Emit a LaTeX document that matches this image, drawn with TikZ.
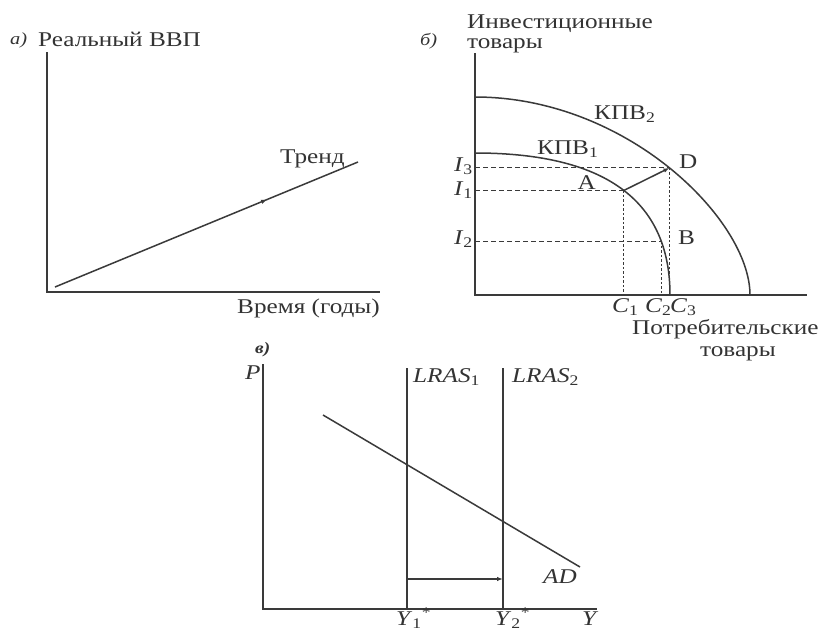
\documentclass[tikz,border=0pt]{standalone}
\usepackage{fontspec}
\setmainfont{Liberation Serif}[FakeStretch=1.2]
\usetikzlibrary{arrows.meta,decorations.markings}
\definecolor{lc}{HTML}{3A3A3A}
\definecolor{tc}{HTML}{333333}
\begin{document}
\begin{tikzpicture}[x=1pt,y=-1pt,
  ax/.style={line width=1.9pt,draw=lc},
  crv/.style={line width=1.5pt,draw=lc},
  hdash/.style={line width=1.2pt,draw=lc,dash pattern=on 5pt off 3pt},
  vdot/.style={line width=1.2pt,draw=lc,dash pattern=on 2.5pt off 2pt},
  lbl/.style={text=tc,inner sep=0pt,font=\fontsize{21}{24}\selectfont},
  slbl/.style={text=tc,inner sep=0pt,font=\fontsize{17}{20}\selectfont\itshape},
  tip/.style={-{Latex[length=6pt,width=4.5pt]}}]
\useasboundingbox[fill=white] (0,0) rectangle (820,630);

% ---------- panel a ----------
\coordinate (aO) at (47,292);
\coordinate (aY) at (47,52);
\coordinate (aX) at (380,292);
\coordinate (t0) at (55,287);
\coordinate (t1) at (358,162);
\draw[crv,postaction={decorate},decoration={markings,mark=at position 0.7 with {\arrow{Latex[length=6pt,width=4.5pt]}}}] (t0) -- (t1);
\draw[ax] (aY) -- (aO) -- (aX);
\node[slbl,anchor=base west] (alab) at (10,44) {а)};
\node[lbl,anchor=base west] (ay) at (38,46) {Реальный ВВП};
\node[lbl,anchor=base west] (trend) at (280,163) {Тренд};
\node[lbl,anchor=base west] (ax) at (237,313) {Время (годы)};

% ---------- panel b ----------
\coordinate (bO) at (475,295);
\coordinate (bY) at (475,53);
\coordinate (bX) at (807,295);
\draw[crv] (475,97) .. controls (627,97) and (750,220) .. coordinate[pos=0.5] (D) (750,295);
\draw[crv] (475,153) .. controls (612,153) and (670,205.5) .. coordinate[pos=0.5] (A) coordinate[pos=0.78] (B) (670,295);
\draw[hdash] (D -| bO) -- (D);
\draw[hdash] (A -| bO) -- (A);
\draw[hdash] (B -| bO) -- (B);
\draw[vdot] (A) -- (A |- bO);
\draw[vdot] (B) -- (B |- bO);
\draw[vdot] (D) -- (D |- bO);
\draw[crv,tip] (A) -- (D);
\draw[ax] (bY) -- (bO) -- (bX);
\node[slbl,anchor=base west] (blab) at (420,45) {б)};
\node[lbl,anchor=base west] (by1) at (467,28) {Инвестиционные};
\node[lbl,anchor=base west] (by2) at (467,48) {товары};
\node[lbl,anchor=base west] (kpv2) at (594,119) {КПВ\textsubscript{2}};
\node[lbl,anchor=base west] (kpv1) at (537,154) {КПВ\textsubscript{1}};
\node[lbl,anchor=base east] (i3) at (473,171) {\textit{I}\textsubscript{3}};
\node[lbl,anchor=base east] (i1) at (473,195) {\textit{I}\textsubscript{1}};
\node[lbl,anchor=base east] (i2) at (473,244) {\textit{I}\textsubscript{2}};
\node[lbl,anchor=base east] (la) at (596,189) {A};
\node[lbl,anchor=base west] (ld) at (679,168) {D};
\node[lbl,anchor=base west] (lb) at (678,244) {B};
\node[lbl,anchor=base west] (c1) at (612,312) {\textit{C}\textsubscript{1}};
\node[lbl,anchor=base west] (c2) at (645,312) {\textit{C}\textsubscript{2}};
\node[lbl,anchor=base west] (c3) at (670,312) {\textit{C}\textsubscript{3}};
\node[lbl,anchor=base west] (bx1) at (632,334) {Потребительские};
\node[lbl,anchor=base west] (bx2) at (700,356) {товары};

% ---------- panel c ----------
\coordinate (cO) at (263,609);
\coordinate (cY) at (263,364);
\coordinate (cX) at (597,609);
\coordinate (l1t) at (407,368);
\coordinate (l1b) at (407,609);
\coordinate (l2t) at (503,368);
\coordinate (l2b) at (503,609);
\coordinate (ad0) at (323,415);
\coordinate (ad1) at (580,567);
\coordinate (ar0) at (407,579);
\coordinate (ar1) at (503,579);
\draw[crv] (ad0) -- (ad1);
\draw[ax] (l1t) -- (l1b);
\draw[ax] (l2t) -- (l2b);
\draw[crv,tip] (ar0) -- (ar1);
\draw[ax] (cY) -- (cO) -- (cX);
\node[slbl,anchor=base west,font=\fontsize{16}{18}\selectfont\itshape\bfseries] (clab) at (255,353) {в)};
\node[lbl,anchor=base west] (lp) at (245,379) {\textit{P}};
\node[lbl,anchor=base west] (lr1) at (413,382) {\textit{LRAS}\textsubscript{1}};
\node[lbl,anchor=base west] (lr2) at (512,382) {\textit{LRAS}\textsubscript{2}};
\node[lbl,anchor=base west] (lad) at (543,583) {\textit{AD}};
\node[lbl,anchor=base west] (y1) at (396,625) {\textit{Y}\textsubscript{1}\textsuperscript{*}};
\node[lbl,anchor=base west] (y2) at (495,625) {\textit{Y}\textsubscript{2}\textsuperscript{*}};
\node[lbl,anchor=base west] (ly) at (582,625) {\textit{Y}};
\end{tikzpicture}
\end{document}
